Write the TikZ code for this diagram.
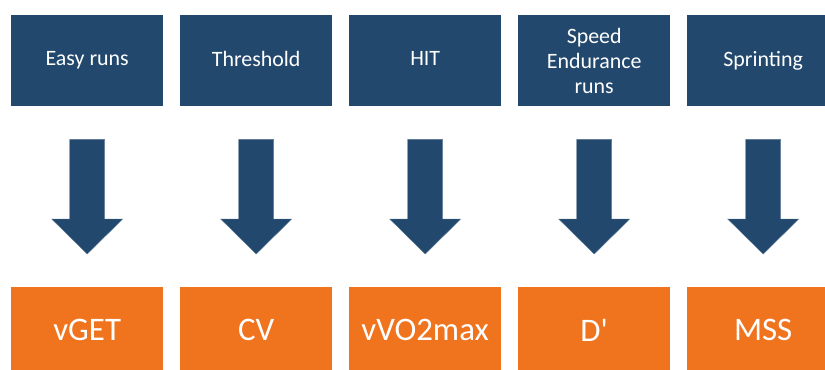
\documentclass[tikz,border=0pt]{standalone}
\usepackage{fontspec}
\setmainfont{Carlito}
\usetikzlibrary{calc}
\definecolor{taskblue}{RGB}{34,73,109}
\definecolor{resorange}{RGB}{240,115,30}

\begin{document}
\begin{tikzpicture}[x=1bp, y=1bp,
  task/.style={fill=taskblue, text=white, minimum width=152bp, minimum height=91bp,
    inner sep=0pt, align=center, font=\fontsize{22}{25}\selectfont},
  result/.style={fill=resorange, text=white, minimum width=152bp, minimum height=91bp,
    inner sep=0pt, font=\fontsize{33}{36}\selectfont},
  downarrow/.style={fill=taskblue, draw=taskblue!75!white, line width=0.4pt}]
\useasboundingbox (0,0) rectangle (825,-369);
\clip (0,0) rectangle (825,-369);
\foreach \i/\lbl/\res in {1/Easy runs/vGET, 2/Threshold/CV, 3/HIT/vVO2max,
    4/Speed\\Endurance\\runs/D\textquotesingle, 5/Sprinting/MSS} {
  \node[task, anchor=north west] (top\i) at ({11+169*(\i-1)},-15) {\vphantom{Ay}\lbl};
  \node[result, anchor=north west] (bot\i) at ({11+169*(\i-1)},-287) {\vphantom{Ay}\res};
  \coordinate (tip\i) at ($(bot\i.north)+(0,33)$);
  \draw[downarrow] ($(top\i.south)+(-17.5,-33)$) -- ($(top\i.south)+(17.5,-33)$)
    -- ($(tip\i)+(17.5,35)$) -- ($(tip\i)+(35.5,35)$) -- (tip\i)
    -- ($(tip\i)+(-35.5,35)$) -- ($(tip\i)+(-17.5,35)$) -- cycle;
}
\end{tikzpicture}
\end{document}
